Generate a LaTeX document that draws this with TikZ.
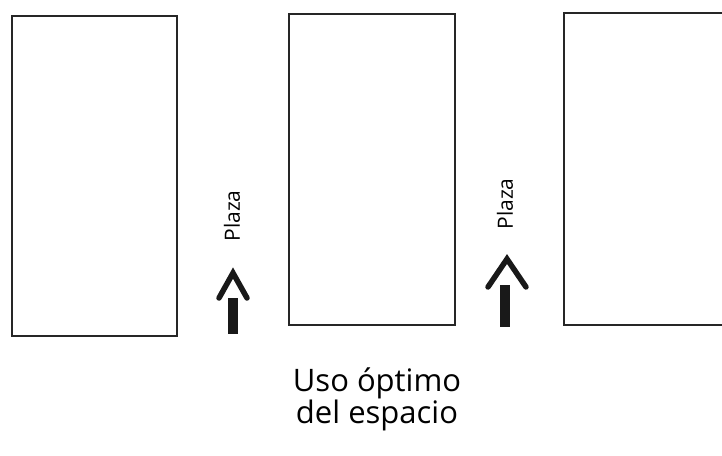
\documentclass[tikz,border=0pt]{standalone}
\usepackage{fontspec}
\setmainfont{Open Sans}
\usepackage{tikz}
\usetikzlibrary{positioning}

\begin{document}
\begin{tikzpicture}[
    x=1pt, y=-1pt,
    block/.style={rectangle, draw=black!85, line width=1.8pt, anchor=north west, inner sep=0pt},
    chevron/.style={draw=black!90, line width=5.5pt, line cap=round, line join=miter},
    shaft/.style={draw=black!90, line width=10.5pt},
    plazatext/.style={font=\fontsize{21}{24}\selectfont, rotate=90},
    caption/.style={align=center, font=\fontsize{31}{32}\selectfont}
]
\useasboundingbox (0,0) rectangle (722,455);
\clip (0,0) rectangle (722,455);

% buildings
\node[block, minimum width=165pt, minimum height=320pt] (block1) at (11,15) {};
\node[block, minimum width=166pt, minimum height=311pt] (block2) at (288,13) {};
\node[block, minimum width=200pt, minimum height=312pt] (block3) at (563,12) {};

% way to the squares
\node[plazatext] (plaza1) at (232,216) {Plaza};
\node[plazatext] (plaza2) at (505,204) {Plaza};

\coordinate (up1) at (233,273);
\coordinate (up2) at (507,259);
\draw[chevron] (up1) ++(-14,25) -- ++(14,-25) -- ++(14,25);
\draw[shaft] (up1) ++(0,25) -- ++(0,36);
\draw[chevron] (up2) ++(-19,28) -- ++(19,-28) -- ++(19,28);
\draw[shaft] (up2) ++(-2,26) -- ++(0,42);

\node[caption] (note) at (377,399) {Uso óptimo\\del espacio};
\end{tikzpicture}
\end{document}
